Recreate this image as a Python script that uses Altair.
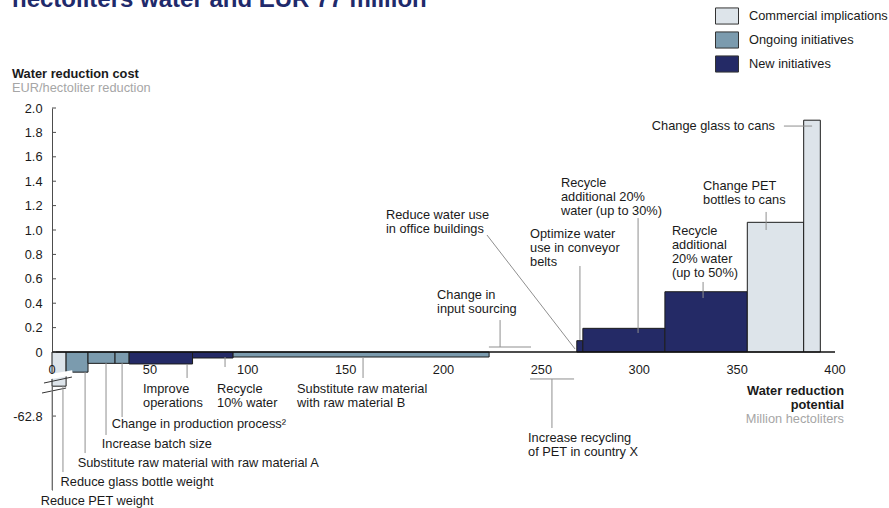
import altair as alt
import pandas as pd

# ---------------- data ----------------
initiatives = [
    "Reduce PET weight / glass bottle weight",
    "Substitute raw material with raw material A",
    "Increase batch size",
    "Change in production process",
    "Improve operations",
    "Recycle 10% water",
    "Substitute raw material with raw material B",
    "Change in input sourcing",
    "Increase recycling of PET in country X",
    "Reduce water use in office buildings",
    "Optimize water use in conveyor belts",
    "Recycle additional 20% water (up to 30%)",
    "Recycle additional 20% water (up to 50%)",
    "Change PET bottles to cans",
    "Change glass to cans",
]
potential = [7.2, 11.2, 13.8, 7.2, 32.4, 20.7, 130.8, 21.3, 22.0, 1.5, 3.1, 41.9, 42.1, 28.8, 8.5]
cost = [-62.8, -0.165, -0.093, -0.093, -0.098, -0.049, -0.041, 0.0, 0.0, 0.0, 0.093, 0.194, 0.494, 1.063, 1.90]
category = [
    "Commercial implications", "Ongoing initiatives", "Ongoing initiatives", "Ongoing initiatives",
    "New initiatives", "New initiatives", "Ongoing initiatives", "Ongoing initiatives",
    "Ongoing initiatives", "New initiatives", "New initiatives", "New initiatives",
    "New initiatives", "Commercial implications", "Commercial implications",
]
legend_names = ["Commercial implications", "Ongoing initiatives", "New initiatives"]
legend_colors = ["#DDE4EA", "#7B9BAE", "#242A66"]

y_tick_values = [0.0, 0.2, 0.4, 0.6, 0.8, 1.0, 1.2, 1.4, 1.6, 1.8, 2.0]
broken_tick_label = "-62.8"
x_tick_values = [0, 50, 100, 150, 200, 250, 300, 350, 400]

# annotation labels (axis units; y = centre of the first line)
left_labels = [
    "Reduce PET weight",
    "Reduce glass bottle weight",
    "Substitute raw material with raw material A",
    "Increase batch size",
    "Change in production process\u00b2",
    "Improve\noperations",
    "Recycle\n10% water",
    "Substitute raw material\nwith raw material B",
    "Change in\ninput sourcing",
    "Increase recycling\nof PET in country X",
    "Reduce water use\nin office buildings",
    "Optimize water\nuse in conveyor\nbelts",
    "Recycle\nadditional 20%\nwater (up to 30%)",
    "Recycle\nadditional\n20% water\n(up to 50%)",
    "Change PET\nbottles to cans",
]
left_label_x = [-5.8, 4.4, 13.1, 25.4, 30.5, 46.5, 84.3, 125.2, 196.7, 243.2, 170.6, 244.2, 260.0, 316.7, 332.6]
left_label_y = [-1.221, -1.066, -0.910, -0.754, -0.590, -0.303, -0.303, -0.303, 0.467, -0.705, 1.123, 0.967, 1.385, 0.992, 1.361]
right_labels = ["Change glass to cans"]
right_label_x = [369.3]
right_label_y = [1.852]

leader_x = [0.0, 5.6, 16.9, 27.6, 35.8, 69.0, 88.4, 158.9, 228.9, 223.2, 255.4, 244.2, 222.2, 269.7, 299.4, 332.6, 364.8, 373.9]
leader_x2 = [0.0, 5.6, 16.9, 27.6, 35.8, 69.0, 88.4, 158.9, 228.9, 244.7, 255.4, 266.7, 267.2, 269.7, 299.4, 332.6, 364.8, 388.3]
leader_y = [-0.279, -0.279, -0.164, -0.090, -0.090, -0.098, -0.041, -0.041, 0.262, 0.041, -0.221, -0.221, 0.959, 0.705, 1.098, 0.574, 1.148, 1.852]
leader_y2 = [-1.131, -0.984, -0.828, -0.680, -0.533, -0.213, -0.123, -0.213, 0.041, 0.041, -0.623, -0.221, 0.025, 0.098, 0.156, 0.443, 1.000, 1.852]

# ---------------- tables ----------------
df = pd.DataFrame({"initiative": initiatives, "potential": potential, "cost": cost, "category": category})
df["x1"] = df["potential"].cumsum()
df["x0"] = df["x1"] - df["potential"]
BREAK_CLIP = -0.28
df["shown"] = [c if c > -1 else BREAK_CLIP for c in df["cost"]]
df["zero"] = 0.0
bars_df = df[df["cost"] != 0]

FONT = "Liberation Sans"
TXT = "#1a1a1a"
FS = 12.8

XS = alt.Scale(domain=[0, 400], nice=False, zero=False)
YS = alt.Scale(domain=[-1.131, 2.0], nice=False, zero=False)

label_expr = (
    f"datum.value < -0.1 ? '{broken_tick_label}' : "
    "(datum.value == 0 ? '0' : format(datum.value, '.1f'))"
)
broken_pos = -0.525

Y_AXIS = alt.Axis(
    values=y_tick_values + [broken_pos], labelExpr=label_expr, ticks=False, grid=False,
    domainColor="#4d4d4d", domainWidth=1, labelPadding=10, labelFontSize=FS,
    labelColor=TXT, labelFont=FONT, labelOverlap=False, labelBound=False, labelFlush=False,
    title=None,
)


def X(f):
    return alt.X(f, scale=XS, axis=None, title=None)


def Y(f):
    return alt.Y(f, scale=YS, axis=Y_AXIS, title=None)


bars = alt.Chart(bars_df).mark_rect(stroke="#1c1c1c", strokeWidth=1).encode(
    x=X("x0:Q"),
    x2="x1:Q",
    y=Y("shown:Q"),
    y2="zero:Q",
    color=alt.Color(
        "category:N",
        scale=alt.Scale(domain=legend_names, range=legend_colors),
        legend=alt.Legend(
            orient="none", legendX=663, legendY=-104, title=None,
            symbolType="M-1,-0.7h2v1.4h-2z", symbolSize=529, symbolStrokeColor="#333333",
            symbolStrokeWidth=1, symbolOpacity=1, labelFontSize=FS, labelColor=TXT, labelFont=FONT,
            labelOffset=10, rowPadding=1, padding=0,
        ),
    ),
)

base_df = pd.DataFrame({"x": [0], "x2": [400], "y": [0]})
baseline = alt.Chart(base_df).mark_rule(color="#111111", strokeWidth=1.5).encode(
    x=X("x:Q"), x2="x2:Q", y=Y("y:Q")
)

ytick_df = pd.DataFrame({"v": y_tick_values + [broken_pos]})
yticks = alt.Chart(ytick_df).mark_rule(color="#4d4d4d", strokeWidth=1).encode(
    x=alt.value(0), x2=alt.value(4), y=Y("v:Q")
)

# axis / bar break symbol
brk_white = pd.DataFrame({"x": [-2.0], "x2": [10.5], "y": [-0.205], "y2": [-0.17]})
break_gap = alt.Chart(brk_white).mark_rule(color="white", strokeWidth=5).encode(
    x=X("x:Q"), x2="x2:Q", y=Y("y:Q"), y2="y2:Q"
)
brk_lines = pd.DataFrame({"x": [-4.1, -5.1], "x2": [10.2, 7.2], "y": [-0.254, -0.336], "y2": [-0.205, -0.295]})
break_marks = alt.Chart(brk_lines).mark_rule(color="#333333", strokeWidth=1).encode(
    x=X("x:Q"), x2="x2:Q", y=Y("y:Q"), y2="y2:Q"
)

lead_df = pd.DataFrame({"x": leader_x, "x2": leader_x2, "y": leader_y, "y2": leader_y2})
leaders = alt.Chart(lead_df).mark_rule(color="#8f8f8f", strokeWidth=1).encode(
    x=X("x:Q"), x2="x2:Q", y=Y("y:Q"), y2="y2:Q"
)

ll_df = pd.DataFrame({"t": left_labels, "x": left_label_x, "y": left_label_y})
left_text = alt.Chart(ll_df).mark_text(
    align="left", baseline="middle", fontSize=FS, font=FONT, color=TXT, lineBreak="\n", lineHeight=14
).encode(x=X("x:Q"), y=Y("y:Q"), text="t:N")

rl_df = pd.DataFrame({"t": right_labels, "x": right_label_x, "y": right_label_y})
right_text = alt.Chart(rl_df).mark_text(
    align="right", baseline="middle", fontSize=FS, font=FONT, color=TXT
).encode(x=X("x:Q"), y=Y("y:Q"), text="t:N")

xt_df = pd.DataFrame({"v": x_tick_values, "y": [-0.148] * len(x_tick_values)})
xt_df["t"] = xt_df["v"].astype(str)
xlabels = alt.Chart(xt_df).mark_text(
    align="center", baseline="middle", fontSize=FS, font=FONT, color=TXT
).encode(x=X("v:Q"), y=Y("y:Q"), text="t:N")

xtitle_df = pd.DataFrame({"t": ["Water reduction\npotential"], "x": [404.6], "y": [-0.320]})
xtitle = alt.Chart(xtitle_df).mark_text(
    align="right", baseline="middle", fontSize=FS, font=FONT, color=TXT, fontWeight="bold",
    lineBreak="\n", lineHeight=14
).encode(x=X("x:Q"), y=Y("y:Q"), text="t:N")
xsub_df = pd.DataFrame({"t": ["Million hectoliters"], "x": [404.6], "y": [-0.549]})
xsub = alt.Chart(xsub_df).mark_text(
    align="right", baseline="middle", fontSize=FS, font=FONT, color="#a6a6a6"
).encode(x=X("x:Q"), y=Y("y:Q"), text="t:N")

one = pd.DataFrame({"t": ["Water reduction cost"]})
ytitle = alt.Chart(one).mark_text(
    align="left", baseline="middle", fontSize=FS, font=FONT, color=TXT, fontWeight="bold"
).encode(x=alt.value(-40), y=alt.value(-34), text="t:N")
one2 = pd.DataFrame({"t": ["EUR/hectoliter reduction"]})
ysub = alt.Chart(one2).mark_text(
    align="left", baseline="middle", fontSize=FS, font=FONT, color="#a6a6a6"
).encode(x=alt.value(-40), y=alt.value(-20.5), text="t:N")

title_df = pd.DataFrame({"t": ["hectoliters water and EUR 77 million"]})
title = alt.Chart(title_df).mark_text(
    align="left", baseline="alphabetic", fontSize=24, font=FONT, color="#1f2a6b", fontWeight="bold"
).encode(x=alt.value(-40), y=alt.value(-101), text="t:N")

chart = alt.layer(
    bars, baseline, yticks, break_gap, break_marks, leaders, left_text, right_text,
    xlabels, xtitle, xsub, ytitle, ysub, title,
).properties(
    width=783, height=382,
    autosize=alt.AutoSizeParams(type="none"),
    padding={"left": 52, "top": 108, "right": 54, "bottom": 18},
).configure(
    font=FONT, background="white", view=alt.ViewConfig(stroke=None)
)

chart.save("out.html", embed_options={"renderer": "svg", "actions": False})
